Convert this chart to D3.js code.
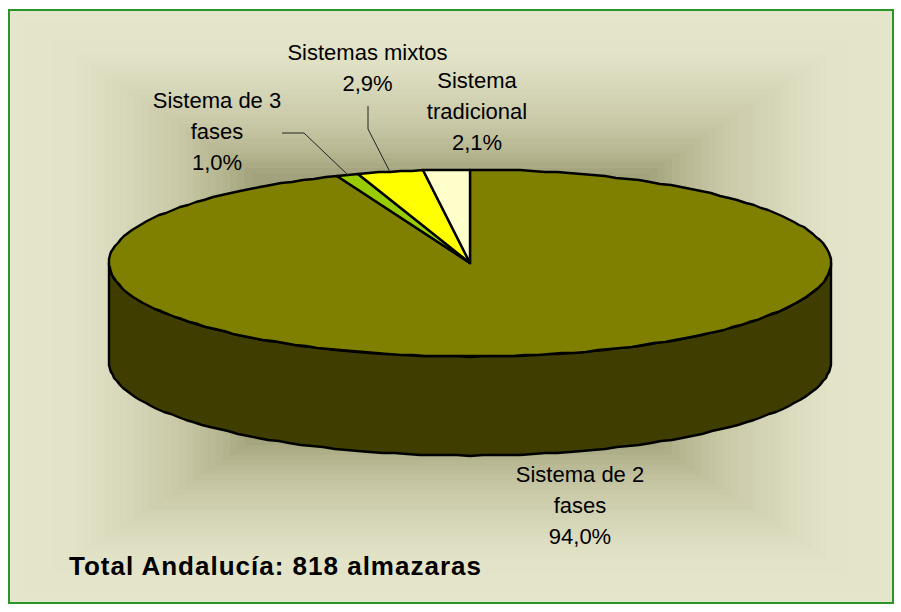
<!DOCTYPE html>
<html>
<head>
<meta charset="utf-8">
<script src="https://cdn.jsdelivr.net/npm/d3@7/dist/d3.min.js"></script>
<style>
html, body { margin: 0; padding: 0; background: #fff; }
svg { display: block; }
text { font-family: "Liberation Sans", Arial, sans-serif; fill: #000; }
</style>
</head>
<body>
<div id="chart"></div>
<script>
var categories = ['Sistema de 2 fases', 'Sistema de 3 fases', 'Sistemas mixtos', 'Sistema tradicional'];
var shares = [94.0, 1.0, 2.9, 2.1];
var totalLabel = 'Total Andalucía: 818 almazaras';

var sliceColors = ['#808000', '#99cc00', '#ffff00', '#ffffcc'];
var sideColor = '#403d00';

var width = 901, height = 612;
var frame = { x0: 9, y0: 10, x1: 893, y1: 603 };

var svg = d3.select('#chart')
    .append('svg')
    .attr('width', width)
    .attr('height', height);

// background is a rectangular "from centre" fill, concentric rects give the same banding
var steps = 60;
var bgColor = d3.scaleLinear()
    .domain([0, 0.13, 0.21, 0.38, 0.48, 0.55, 1])
    .range(['#e5e5cb', '#e3e3c9', '#dcdcc0', '#c9c9a8', '#b6b691', '#a3a37e', '#808060']);
var frameCx = (frame.x0 + frame.x1) / 2, frameCy = (frame.y0 + frame.y1) / 2;

svg.append('g')
    .selectAll('rect')
    .data(d3.range(steps))
    .enter()
    .append('rect')
    .attr('x', function(d) { return frame.x0 + (frameCx - frame.x0) * d / steps; })
    .attr('y', function(d) { return frame.y0 + (frameCy - frame.y0) * d / steps; })
    .attr('width', function(d) { return (frame.x1 - frame.x0) * (1 - d / steps); })
    .attr('height', function(d) { return (frame.y1 - frame.y0) * (1 - d / steps); })
    .attr('fill', function(d) { return bgColor(d / (steps - 1)); });

svg.append('rect')
    .attr('x', frame.x0)
    .attr('y', frame.y0)
    .attr('width', frame.x1 - frame.x0)
    .attr('height', frame.y1 - frame.y0)
    .attr('fill', 'none')
    .attr('stroke', '#2a962a')
    .attr('stroke-width', 2);

// tilted pie: unit circle mapped on to the ellipse
var xScale = d3.scaleLinear().domain([-1, 1]).range([109, 831]);
var yScale = d3.scaleLinear().domain([-1, 1]).range([169.5, 356.5]);
var depth = 99;

function project(angle, drop) {
    // rounded to whole pixels, the source outline is stepped as well
    return [
        Math.round(xScale(Math.sin(angle))),
        Math.round(yScale(-Math.cos(angle))) + (drop || 0)
    ];
}

function rimPoints(a0, a1, drop) {
    var n = Math.max(1, Math.ceil(Math.abs(a1 - a0) / (Math.PI / 90)));
    return d3.range(n + 1).map(function(i) {
        return project(a0 + (a1 - a0) * i / n, drop);
    });
}

var pie = d3.pie().sort(null).value(function(d) { return d; });
var slices = pie(shares);
var line = d3.line();

// side wall, only the front half of the rim shows
var front = rimPoints(Math.PI / 2, Math.PI * 1.5, 0);
var frontLow = rimPoints(Math.PI * 1.5, Math.PI / 2, depth);
svg.append('path')
    .attr('d', line(front.concat(frontLow)) + 'Z')
    .attr('fill', sideColor)
    .attr('stroke', '#000')
    .attr('stroke-width', 2.4)
    .attr('stroke-linejoin', 'round');

var apex = [xScale(0), yScale(0)];

svg.append('g')
    .selectAll('path')
    .data(slices)
    .enter()
    .append('path')
    .attr('d', function(d) {
        return line([apex].concat(rimPoints(d.startAngle, d.endAngle, 0))) + 'Z';
    })
    .attr('fill', function(d, i) { return sliceColors[i]; })
    .attr('stroke', '#000')
    .attr('stroke-width', 2.4)
    .attr('stroke-linejoin', 'round');

// labels, broken on to lines the way the chart does it
var labelLines = [
    ['Sistema de 2', 'fases'],
    ['Sistema de 3', 'fases'],
    ['Sistemas mixtos'],
    ['Sistema', 'tradicional']
];
var labelPos = [
    { x: 580, y: 482 },
    { x: 217, y: 108 },
    { x: 367.5, y: 60 },
    { x: 477, y: 88 }
];
var pctFormat = function(v) { return v.toFixed(1).replace('.', ',') + '%'; };

var labels = svg.append('g')
    .selectAll('text')
    .data(categories)
    .enter()
    .append('text')
    .attr('text-anchor', 'middle')
    .attr('font-size', 22);

labels.each(function(d, i) {
    var t = d3.select(this);
    labelLines[i].concat(pctFormat(shares[i])).forEach(function(s, j) {
        t.append('tspan')
            .attr('x', labelPos[i].x)
            .attr('y', labelPos[i].y + j * 31)
            .text(s);
    });
});

// leader lines for the two small slices
var leaders = [
    { slice: 1, pts: [[282, 133], [304, 133]] },
    { slice: 2, pts: [[368, 106], [368, 129]] }
];
svg.append('g')
    .selectAll('path')
    .data(leaders)
    .enter()
    .append('path')
    .attr('d', function(d) {
        var s = slices[d.slice];
        var end = project((s.startAngle + s.endAngle) / 2, 0);
        return line(d.pts.concat([end]));
    })
    .attr('fill', 'none')
    .attr('stroke', '#222')
    .attr('stroke-width', 1);

svg.append('text')
    .attr('x', 69)
    .attr('y', 575)
    .attr('font-size', 26)
    .attr('font-weight', 'bold')
    .attr('letter-spacing', 1)
    .text(totalLabel);
</script>
</body>
</html>
